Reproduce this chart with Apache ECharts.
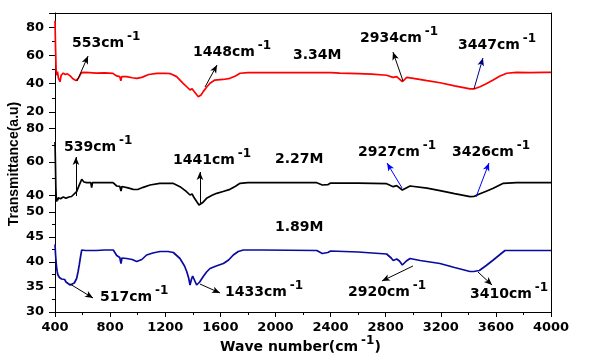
<!DOCTYPE html>
<html><head><meta charset="utf-8">
<script src="https://cdn.jsdelivr.net/npm/echarts@6/dist/echarts.min.js"></script>
<style>html,body{margin:0;padding:0;background:#fff}#c{width:595px;height:361px}</style>
</head><body><div id="c"></div>
<script>
// ---- data (wavenumber cm-1, transmittance a.u.) ----
const wn_334 = [400,404,408,412,418,425,436,445,460,475,490,510,530,552,570,590,605,650,700,760,820,848,870,878,884,920,960,993,1030,1080,1140,1200,1235,1283,1330,1360,1380,1395,1410,1440,1460,1476,1500,1525,1560,1620,1670,1710,1743,1800,2000,2200,2400,2468,2600,2700,2807,2853,2880,2921,2953,3000,3100,3195,3300,3412,3440,3485,3530,3580,3630,3679,3750,3850,3950,4000];
const tr_334 = [84.5,65,50,46,48.5,44,41.4,46,47.5,46.5,47,45.5,43.5,42.2,44,47.5,48,47.8,47.5,47.6,47.3,45.5,45,42,45,45,44.2,43.8,44.5,46.5,47.3,47.4,47.2,45,40.3,37.5,35.6,36.5,34.5,30.8,32,34.4,37.5,40.3,42.6,43,43.8,45.5,47.4,47.8,47.8,47.9,47.8,47.5,47.2,46.8,46,44.5,45,41.4,44.5,43.8,42.2,40.7,38.5,36.3,36.3,37.9,40,42.6,45.5,47.4,48,47.9,48,48];

const wn_227 = [400,403,406,409,412,416,420,425,440,460,480,500,520,533,557,575,594,610,630,660,666,672,720,780,821,848,870,879,886,930,968,1000,1040,1090,1160,1256,1307,1350,1380,1395,1410,1445,1470,1500,1540,1574,1620,1670,1710,1743,1800,2300,2340,2380,2400,2600,2807,2855,2880,2921,2977,3100,3194,3300,3412,3440,3480,3530,3581,3654,3750,4000];
const tr_227 = [72,60,45,39,36.2,38.5,37,38.5,38,39,38.2,39,39.3,39.6,42.2,46,49.6,48,47.6,47.6,44.6,47.6,47.6,47.6,47.6,45.6,45.4,42.6,45.3,44.5,43.6,43.5,44.8,46.2,47.2,47.2,45.2,42.5,40.2,40.8,38.5,34.2,35.5,38.2,40,41.2,42.3,43.6,45.5,47.2,47.6,47.6,46.2,46.4,47.4,47.3,47,45.2,45.8,43.2,45.6,44.3,42.8,41,39.2,39.3,40.8,42.5,44.2,47.2,47.6,47.6];

const wn_189 = [400,404,408,412,416,420,426,432,440,448,460,470,480,495,510,521,540,557,567,576,585,594,620,700,760,823,848,870,879,886,920,960,993,1030,1065,1110,1162,1220,1259,1307,1340,1356,1370,1380,1390,1399,1410,1428,1450,1476,1500,1525,1570,1622,1660,1694,1730,1767,1900,2300,2340,2380,2400,2600,2807,2840,2855,2880,2900,2921,2950,2977,3050,3194,3300,3412,3440,3480,3530,3581,3630,3666,3800,4000];
const tr_189 = [43.5,41.5,40.1,38.8,38.1,37.5,37.8,36.9,37.2,36.6,36.3,36.5,36,35.7,35.4,35.3,35.8,36.7,38,39.4,41,42.4,42.3,42.3,42.4,42.4,41.3,40.9,39.7,40.8,40.7,40.5,40.1,40.5,41.4,41.8,42.1,42.1,41.9,40.7,39.2,38.1,36.8,35.4,36.5,37.2,36.8,35.4,36,37.1,38,38.7,39.2,39.7,40.4,41.4,42.1,42.4,42.4,42.3,41.7,41.9,42.2,42,41.6,40.8,40.3,40.6,40.2,39.4,40.2,40.7,40.3,39.7,38.9,38.1,38.1,38.3,39.3,40.4,41.5,42.3,42.3,42.3];

const concentrations = ['3.34M','2.27M','1.89M'];
const midTicks = [40,60,80];
const midMinorTicks = [50,70];

// arrows: [x1,y1,x2,y2] in data units (tail on curve -> head)
const arrows_334 = [[560,41.9,640,59.6,'#000'],[1489,37.7,1576,53.2,'#000'],[2926,41.9,2853,62.4,'#000'],[3441,36.3,3506,58.2,'#000080']];
const arrows_227 = [[552,39.6,552,63,'#000'],[1452,35.4,1452,54,'#000'],[2919,44.4,2810,59.4,'#0000ff'],[3456,39,3550,59.4,'#0000ff']];
const arrows_189 = [[509,35.6,676,32.8,'#000'],[1452,35.6,1598,33.8,'#000'],[2998,39.2,2773,36.2,'#000'],[3470,38,3572,35.4,'#000']];

// annotation labels
const peakLabels = [
  ['553cm',72,38,true],['1448cm',193,47,true],['2934cm',360,33,true],['3447cm',458,40,true],
  ['539cm',64,142,true],['1441cm',173,155,true],['2927cm',358,147,true],['3426cm',452,147,true],
  ['517cm',100,292,true],['1433cm',225,287,true],['2920cm',348,287,true],['3410cm',470,289,true],
  ['3.34M',293,55,false],['2.27M',275,159,false],['1.89M',275,227,false]
];

const zip = (a,b) => a.map((v,i)=>[v,b[i]]);
const F = 'DejaVu Sans';
const chart = echarts.init(document.getElementById('c'));

const grids = [
  {left:55,right:44,top:13,height:99},
  {left:55,right:44,top:112,height:100},
  {left:55,right:44,top:212,height:100}
];
const lbl = {fontFamily:F,fontWeight:'bold',fontSize:13,color:'#000',formatter:v=>String(v)};
const blackLine = {show:true,lineStyle:{color:'#000',width:1}};

const xAxes = [0,1,2].map(g=>({
  type:'value',gridIndex:g,min:400,max:4000,interval:400,show:g===2,
  axisLine:blackLine,
  axisTick:{show:true,length:5,lineStyle:{color:'#000'}},
  minorTick:{show:true,splitNumber:2,length:3,lineStyle:{color:'#000'}},
  axisLabel:Object.assign({margin:9},lbl),
  splitLine:{show:false}
}));
xAxes.push({type:'value',gridIndex:0,position:'top',min:400,max:4000,axisLine:blackLine,axisTick:{show:false},axisLabel:{show:false},splitLine:{show:false}});

const rightAxis = (g,min,max)=>({type:'value',gridIndex:g,position:'right',min,max,axisLine:blackLine,axisTick:{show:false},axisLabel:{show:false},splitLine:{show:false}});
const yAxes = [
  {type:'value',gridIndex:0,position:'left',min:20,max:90,interval:20,axisLine:blackLine,
   axisTick:{length:6,lineStyle:{color:'#000'}},minorTick:{show:true,splitNumber:2,length:3,lineStyle:{color:'#000'}},
   axisLabel:Object.assign({margin:11,showMaxLabel:false},lbl),splitLine:{show:false}},
  rightAxis(0,20,90),
  {type:'value',gridIndex:1,position:'left',min:30,max:90,interval:10,axisLine:blackLine,
   axisTick:{length:6,customValues:midTicks,lineStyle:{color:'#000'}},
   axisLabel:Object.assign({margin:11,customValues:midTicks},lbl),splitLine:{show:false}},
  {type:'value',gridIndex:1,position:'left',min:30,max:90,interval:10,axisLine:{show:false},
   axisTick:{length:3,customValues:midMinorTicks,lineStyle:{color:'#000'}},
   axisLabel:{show:false},splitLine:{show:false}},
  rightAxis(1,30,90),
  {type:'value',gridIndex:2,position:'left',min:30,max:50,interval:5,axisLine:blackLine,
   axisTick:{length:6,lineStyle:{color:'#000'}},minorTick:{show:true,splitNumber:2,length:3,lineStyle:{color:'#000'}},
   axisLabel:Object.assign({margin:11},lbl),splitLine:{show:false}},
  rightAxis(2,30,50)
];

const mk = arr => ({
  silent:true,animation:false,symbol:['none','arrow'],symbolSize:[5,8],label:{show:false},
  emphasis:{disabled:true},
  data:arr.map(a=>[{coord:[a[0],a[1]],lineStyle:{color:a[4],width:1,type:'solid'},itemStyle:{color:a[4]}},{coord:[a[2],a[3]],itemStyle:{color:a[4]}}])
});
const mkSeries = (name,x,y,xi,yi,color,arrows)=>({
  name,type:'line',xAxisIndex:xi,yAxisIndex:yi,data:zip(x,y),showSymbol:false,
  lineStyle:{color,width:1.7},itemStyle:{color},animation:false,markLine:mk(arrows)
});

const rich = {
  m:{fontFamily:F,fontWeight:'bold',fontSize:14,color:'#000',lineHeight:19,verticalAlign:'bottom'},
  s:{fontFamily:F,fontWeight:'bold',fontSize:12,color:'#000',verticalAlign:'top',padding:[0,0,0,3]}
};
const graphics = peakLabels.map(p=>({
  type:'text',left:p[1],top:p[2]-7,silent:true,
  style:{text:p[3]?'{m|'+p[0]+'}{s|-1}':'{m|'+p[0]+'}',rich}
}));
graphics.push({type:'text',left:220,top:335,silent:true,style:{text:'{m|Wave number(cm}{s|-1}{m|)}',rich}});
graphics.push({type:'text',x:14,y:164,rotation:Math.PI/2,silent:true,
  style:{text:'Transmittance(a.u)',fontFamily:'Liberation Sans',fontWeight:'bold',fontSize:14,fill:'#000',align:'center',verticalAlign:'middle'}});

chart.setOption({
  animation:false,
  backgroundColor:'#fff',
  grid:grids,
  xAxis:xAxes,
  yAxis:yAxes,
  series:[
    mkSeries(concentrations[0],wn_334,tr_334,0,0,'#ff0000',arrows_334),
    mkSeries(concentrations[1],wn_227,tr_227,1,2,'#000000',arrows_227),
    mkSeries(concentrations[2],wn_189,tr_189,2,5,'#0a0aa0',arrows_189)
  ],
  graphic:graphics
});
</script></body></html>
